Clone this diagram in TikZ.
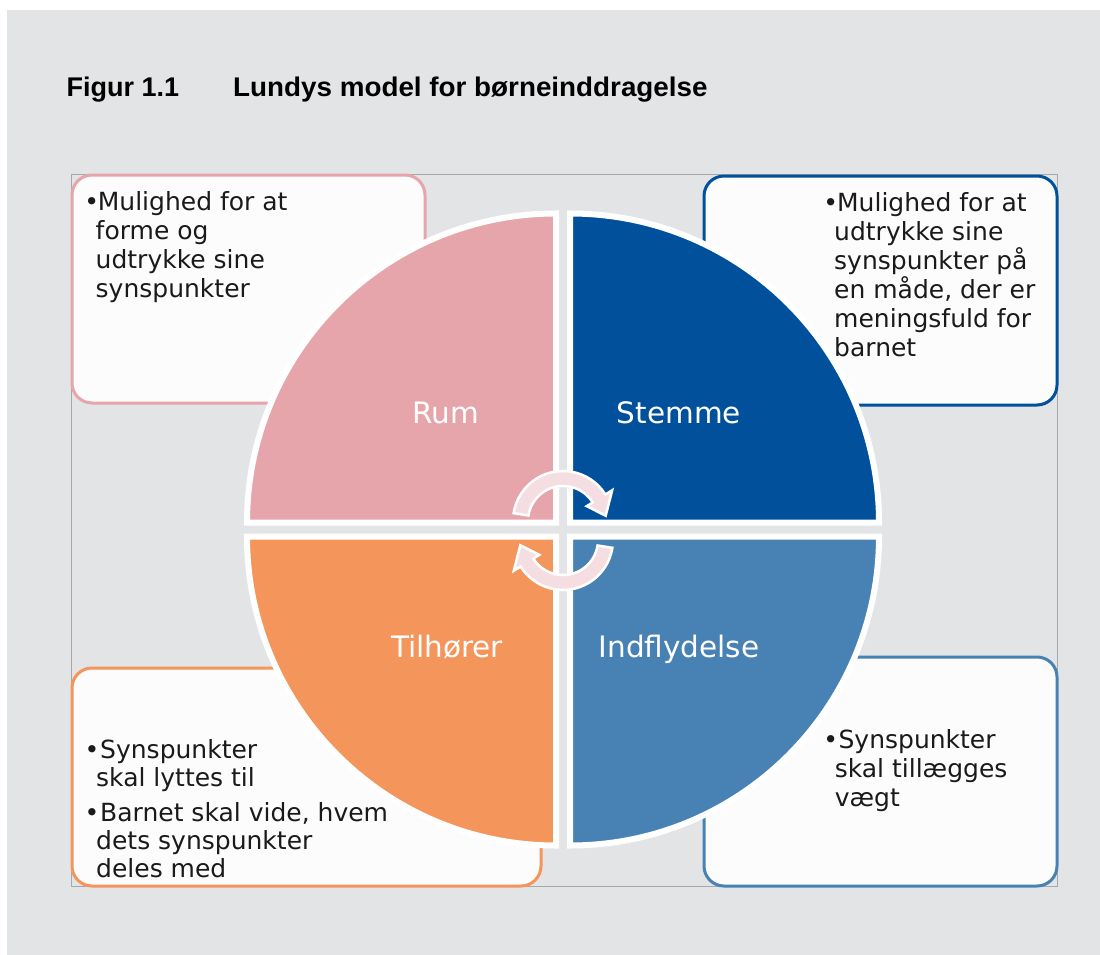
\documentclass[tikz,border=0pt]{standalone}
\usepackage{fontspec}
\setmainfont{DejaVu Sans}
\newfontfamily\titlefont{Liberation Sans}
\newfontfamily\titlewide[FakeStretch=1.03]{Liberation Sans}
\definecolor{bggray}{HTML}{E3E4E6}
\definecolor{framegray}{HTML}{A8A8A8}
\definecolor{pinkc}{HTML}{E6A5AB}
\definecolor{bluec}{HTML}{00509C}
\definecolor{orangec}{HTML}{F4955C}
\definecolor{steelc}{HTML}{4882B4}
\definecolor{arrowc}{HTML}{F5DEE1}
\definecolor{boxfill}{HTML}{FCFCFC}
\definecolor{txt}{HTML}{1A1A1A}
\tikzset{
  infobox/.style={fill=boxfill, line width=3pt, rounded corners=20pt},
  quad/.style={draw=white, line width=6pt, line join=miter},
  circarrow/.style={fill=arrowc, draw=white, line width=2.5pt, line join=miter},
  qlabel/.style={text=white, font=\fontsize{29.5}{33}\selectfont, inner sep=0pt, anchor=base},
  btext/.style={text=txt, font=\fontsize{25}{29}\selectfont, inner sep=0pt, align=left, anchor=north west},
  btextb/.style={btext, font=\fontsize{25}{28}\selectfont},
  ttl/.style={text=black, font=\titlefont\bfseries\fontsize{27}{30}\selectfont, inner sep=0pt, anchor=base west},
  ttlw/.style={ttl, font=\titlewide\bfseries\fontsize{27}{30}\selectfont}
}
\begin{document}
\begin{tikzpicture}[x=1pt,y=-1pt]
\useasboundingbox (0,0) rectangle (1100,955);
\fill[white] (0,0) rectangle (1100,955);
\fill[bggray] (7,10) rectangle (1100,955);
% inner frame
\draw[framegray, line width=1pt, fill=bggray] (71.5,174.5) rectangle (1057,886);
% title
\node[ttl] (fig) at (66.5,97) {Figur 1.1};
\node[ttlw] (title) at (233,97) {Lundys model for børneinddragelse};
% info boxes
\draw[infobox, draw=pinkc] (72,175) rectangle (425,403);
\draw[infobox, draw=bluec] (704,176) rectangle (1057,405);
\draw[infobox, draw=orangec] (72,668) rectangle (541,886);
\draw[infobox, draw=steelc] (704,657) rectangle (1057,886);
% quadrants
\filldraw[quad, fill=pinkc] (556,522.5) -- ++(-309,0) arc[start angle=180, end angle=270, radius=309] -- cycle;
\filldraw[quad, fill=bluec] (570,522.5) -- ++(0,-309) arc[start angle=270, end angle=360, radius=309] -- cycle;
\filldraw[quad, fill=orangec] (556,536.5) -- ++(0,309) arc[start angle=90, end angle=180, radius=309] -- cycle;
\filldraw[quad, fill=steelc] (570,536.5) -- ++(309,0) arc[start angle=0, end angle=90, radius=309] -- cycle;
% circular arrows
\begin{scope}[shift={(563,521)}]
\filldraw[circarrow] (189:50) arc[start angle=189, end angle=328, radius=50] -- (328:58) -- (353:43) -- (328:28) -- (328:35) arc[start angle=328, end angle=189, radius=35] -- cycle;
\end{scope}
\begin{scope}[shift={(563,540)}]
\filldraw[circarrow] (9:50) arc[start angle=9, end angle=148, radius=50] -- (148:58) -- (173:43) -- (148:28) -- (148:35) arc[start angle=148, end angle=9, radius=35] -- cycle;
\end{scope}
% quadrant labels
\node[qlabel] (rum) at (446,423) {Rum};
\node[qlabel] (stemme) at (679,423) {Stemme};
\node[qlabel] (tilhorer) at (447,657) {Tilhører};
\node[qlabel] (indfl) at (679,657) {Indflydelse};
% box texts
\node[btext] (tltext) at (95.5,191) {\leavevmode\llap{•\hspace{-3.4pt}}\hspace{2.1pt}Mulighed for at\\forme og\\udtrykke sine\\synspunkter};
\node[btext] (trtext) at (834,192.7) {\leavevmode\llap{•\hspace{-3.9pt}}\hspace{2.9pt}Mulighed for at\\udtrykke sine\\synspunkter på\\en måde, der er\\meningsfuld for\\barnet};
\node[btextb] (bltexta) at (96,739.3) {\leavevmode\llap{•\hspace{-3.1pt}}\hspace{4pt}Synspunkter\\skal lyttes til};
\node[btextb] (bltextb) at (96,802) {\leavevmode\llap{•\hspace{-3.1pt}}\hspace{4pt}Barnet skal vide, hvem\\dets synspunkter\\deles med};
\node[btext] (brtext) at (834.6,729) {\leavevmode\llap{•\hspace{-3.3pt}}\hspace{3.8pt}Synspunkter\\skal tillægges\\vægt};
\end{tikzpicture}
\end{document}
